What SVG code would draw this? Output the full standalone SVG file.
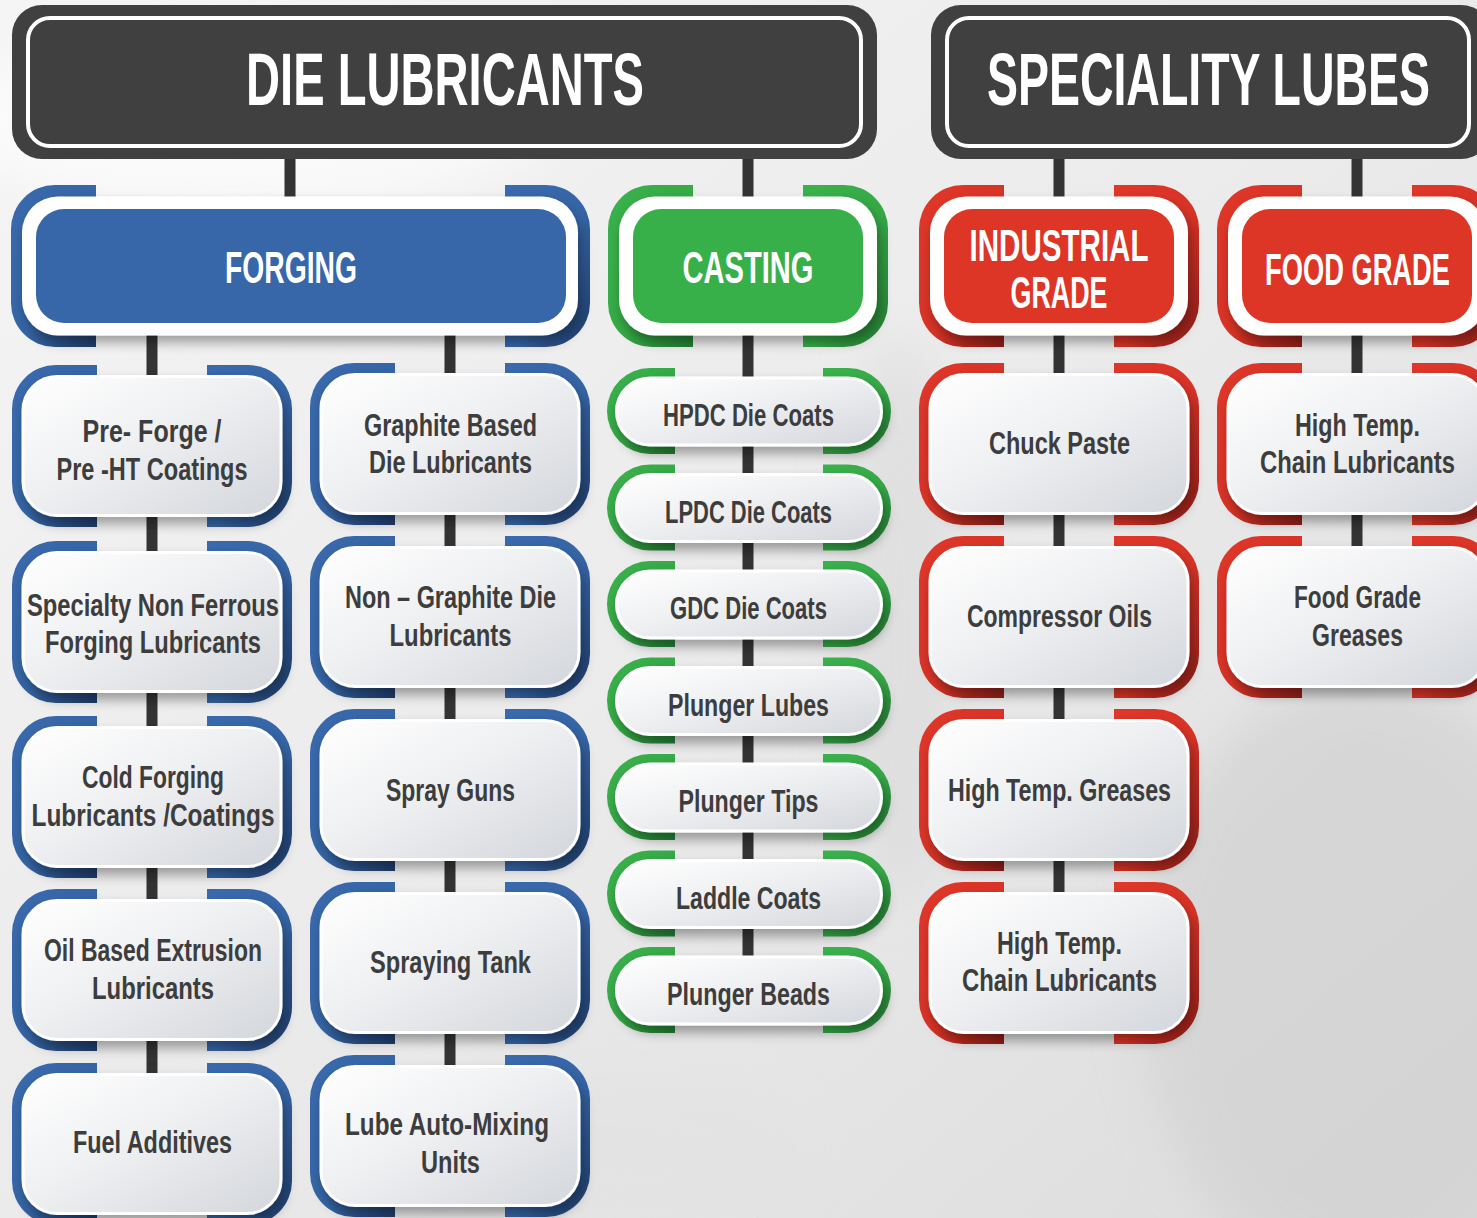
<svg xmlns="http://www.w3.org/2000/svg" width="1477" height="1218" viewBox="0 0 1477 1218">
<style>
.lt{font-family:"Liberation Sans",Arial,sans-serif;font-weight:bold;font-size:32px;fill:#3d3d3d;text-anchor:middle}
.ht{font-family:"Liberation Sans",Arial,sans-serif;font-weight:bold;font-size:44px;fill:#ffffff;text-anchor:middle}
.tt{font-family:"Liberation Sans",Arial,sans-serif;font-weight:bold;font-size:74px;fill:#ffffff;text-anchor:middle}
.cn line{stroke:#333333;stroke-width:11}
.bd{fill:url(#gw);stroke:#ffffff;stroke-width:3}
</style>
<defs>
<linearGradient id="bg" x1="0" y1="0" x2="1" y2="1">
<stop offset="0" stop-color="#f5f5f5"/><stop offset="0.5" stop-color="#ebebeb"/><stop offset="1" stop-color="#dcdcdc"/>
</linearGradient>
<linearGradient id="gb" x1="0" y1="0" x2="1" y2="1">
<stop offset="0" stop-color="#3a6aad"/><stop offset="0.55" stop-color="#3565a6"/><stop offset="1" stop-color="#1f3b68"/>
</linearGradient>
<linearGradient id="gg" x1="0" y1="0" x2="1" y2="1">
<stop offset="0" stop-color="#3ab24c"/><stop offset="0.55" stop-color="#35a946"/><stop offset="1" stop-color="#237d33"/>
</linearGradient>
<linearGradient id="gr" x1="0" y1="0" x2="1" y2="1">
<stop offset="0" stop-color="#e0372a"/><stop offset="0.55" stop-color="#d83326"/><stop offset="1" stop-color="#8c1d17"/>
</linearGradient>
<linearGradient id="gw" x1="0" y1="0" x2="1" y2="1">
<stop offset="0" stop-color="#ffffff"/><stop offset="0.45" stop-color="#eff0f2"/><stop offset="1" stop-color="#d3d6db"/>
</linearGradient>
<filter id="sh" x="-20%" y="-20%" width="140%" height="160%">
<feDropShadow dx="3" dy="7" stdDeviation="6" flood-color="#000000" flood-opacity="0.35"/>
</filter>
<filter id="bl" x="-50%" y="-50%" width="200%" height="200%"><feGaussianBlur stdDeviation="25"/></filter>
<g id="brk">
<path d="M85,0 H44 A44,44 0 0 0 0,44 V118 A44,44 0 0 0 44,162 H85 Z"/>
<path d="M195,0 H236 A44,44 0 0 1 280,44 V118 A44,44 0 0 1 236,162 H195 Z"/>
</g>
<g id="brkf">
<path d="M85,0 H44 A44,44 0 0 0 0,44 V118 A44,44 0 0 0 44,162 H85 Z"/>
<path d="M494,0 H535 A44,44 0 0 1 579,44 V118 A44,44 0 0 1 535,162 H494 Z"/>
</g>
<g id="brkp">
<path d="M68,0 H43 A43,43 0 0 0 43,86 H68 Z"/>
<path d="M216,0 H241 A43,43 0 0 1 241,86 H216 Z"/>
</g>
<rect id="body" class="bd" x="11" y="11.5" width="258" height="139" rx="34" filter="url(#sh)"/>
<rect id="bodyp" class="bd" x="9.5" y="10" width="265" height="67" rx="33.5" filter="url(#sh)"/>
<rect id="hbody" x="11" y="11.5" width="258" height="139" rx="36" fill="#ffffff" filter="url(#sh)"/>
</defs>

<rect width="1477" height="1218" fill="url(#bg)"/>
<g filter="url(#bl)" opacity="0.6">
<ellipse cx="1360" cy="980" rx="220" ry="300" fill="#cfcfcf"/>
<ellipse cx="900" cy="620" rx="60" ry="280" fill="#d9d9d9"/>
<ellipse cx="250" cy="120" rx="300" ry="90" fill="#ffffff"/>
<ellipse cx="600" cy="1150" rx="200" ry="80" fill="#e2e2e2"/>
</g>

<g class="cn" id="connectors">
<line x1="290" y1="155" x2="290" y2="205"/>
<line x1="748" y1="155" x2="748" y2="205"/>
<line x1="1059" y1="155" x2="1059" y2="205"/>
<line x1="1357" y1="155" x2="1357" y2="205"/>
<line x1="152" y1="330" x2="152" y2="383"/>
<line x1="152" y1="509" x2="152" y2="557"/>
<line x1="152" y1="683" x2="152" y2="734"/>
<line x1="152" y1="860" x2="152" y2="907"/>
<line x1="152" y1="1033" x2="152" y2="1081"/>
<line x1="450" y1="330" x2="450" y2="381"/>
<line x1="450" y1="507" x2="450" y2="554"/>
<line x1="450" y1="680" x2="450" y2="727"/>
<line x1="450" y1="853" x2="450" y2="900"/>
<line x1="450" y1="1026" x2="450" y2="1073"/>
<line x1="748" y1="330" x2="748" y2="384"/>
<line x1="748" y1="439" x2="748" y2="480"/>
<line x1="748" y1="535" x2="748" y2="577"/>
<line x1="748" y1="632" x2="748" y2="673"/>
<line x1="748" y1="728" x2="748" y2="770"/>
<line x1="748" y1="825" x2="748" y2="866"/>
<line x1="748" y1="921" x2="748" y2="963"/>
<line x1="1059" y1="330" x2="1059" y2="381"/>
<line x1="1059" y1="507" x2="1059" y2="554"/>
<line x1="1059" y1="680" x2="1059" y2="727"/>
<line x1="1059" y1="853" x2="1059" y2="900"/>
<line x1="1357" y1="330" x2="1357" y2="381"/>
<line x1="1357" y1="507" x2="1357" y2="554"/>
</g>

<g id="die-lubricants">
<rect x="12" y="5" width="865" height="154" rx="30" fill="#404040"/>
<rect x="28" y="18" width="833" height="128" rx="22" fill="none" stroke="#ffffff" stroke-width="4"/>
<text class="tt" x="445" y="105" textLength="398" lengthAdjust="spacingAndGlyphs">DIE LUBRICANTS</text>
</g>
<g id="speciality-lubes">
<rect x="931" y="5" width="560" height="154" rx="30" fill="#404040"/>
<rect x="947" y="18" width="522" height="128" rx="22" fill="none" stroke="#ffffff" stroke-width="4"/>
<text class="tt" x="1208.5" y="105" textLength="443" lengthAdjust="spacingAndGlyphs">SPECIALITY LUBES</text>
</g>

<g id="forging" transform="translate(11,185)">
<use href="#brkf" fill="url(#gb)"/>
<rect x="11" y="11.5" width="556" height="139" rx="36" fill="#ffffff" filter="url(#sh)"/>
<rect x="25" y="24" width="530" height="114" rx="28" fill="#3767a9"/>
<text class="ht" x="280" y="98" textLength="132" lengthAdjust="spacingAndGlyphs">FORGING</text>
</g>
<g id="casting" transform="translate(608,185)">
<use href="#brk" fill="url(#gg)"/>
<use href="#hbody"/>
<rect x="25" y="24" width="230" height="114" rx="28" fill="#38b04a"/>
<text class="ht" x="140" y="98" textLength="131" lengthAdjust="spacingAndGlyphs">CASTING</text>
</g>
<g id="industrial-grade" transform="translate(919,185)">
<use href="#brk" fill="url(#gr)"/>
<use href="#hbody"/>
<rect x="25" y="24" width="230" height="114" rx="28" fill="#dd3526"/>
<text class="ht" x="140" y="76" textLength="179" lengthAdjust="spacingAndGlyphs">INDUSTRIAL</text>
<text class="ht" x="140" y="123" textLength="97" lengthAdjust="spacingAndGlyphs">GRADE</text>
</g>
<g id="food-grade" transform="translate(1217,185)">
<use href="#brk" fill="url(#gr)"/>
<use href="#hbody"/>
<rect x="25" y="24" width="230" height="114" rx="28" fill="#dd3526"/>
<text class="ht" x="140.5" y="100" textLength="185" lengthAdjust="spacingAndGlyphs">FOOD GRADE</text>
</g>

<g id="pre-forge" transform="translate(12,365)">
<use href="#brk" fill="url(#gb)"/><use href="#body"/>
<text class="lt" x="140" y="77" textLength="139" lengthAdjust="spacingAndGlyphs">Pre- Forge /</text>
<text class="lt" x="140" y="115" textLength="191" lengthAdjust="spacingAndGlyphs">Pre -HT Coatings</text>
</g>
<g id="specialty-non-ferrous" transform="translate(12,541)">
<use href="#brk" fill="url(#gb)"/><use href="#body"/>
<text class="lt" x="141" y="75" textLength="252" lengthAdjust="spacingAndGlyphs">Specialty Non Ferrous</text>
<text class="lt" x="141" y="112" textLength="216" lengthAdjust="spacingAndGlyphs">Forging Lubricants</text>
</g>
<g id="cold-forging" transform="translate(12,716)">
<use href="#brk" fill="url(#gb)"/><use href="#body"/>
<text class="lt" x="141" y="72" textLength="142" lengthAdjust="spacingAndGlyphs">Cold Forging</text>
<text class="lt" x="141" y="110" textLength="243" lengthAdjust="spacingAndGlyphs">Lubricants /Coatings</text>
</g>
<g id="oil-based-extrusion" transform="translate(12,889)">
<use href="#brk" fill="url(#gb)"/><use href="#body"/>
<text class="lt" x="141" y="72" textLength="218" lengthAdjust="spacingAndGlyphs">Oil Based Extrusion</text>
<text class="lt" x="141" y="110" textLength="122" lengthAdjust="spacingAndGlyphs">Lubricants</text>
</g>
<g id="fuel-additives" transform="translate(12,1063)">
<use href="#brk" fill="url(#gb)"/><use href="#body"/>
<text class="lt" x="140.5" y="90" textLength="159" lengthAdjust="spacingAndGlyphs">Fuel Additives</text>
</g>

<g id="graphite-based" transform="translate(310,363)">
<use href="#brk" fill="url(#gb)"/><use href="#body"/>
<text class="lt" x="140.5" y="73" textLength="173" lengthAdjust="spacingAndGlyphs">Graphite Based</text>
<text class="lt" x="140.5" y="110" textLength="163" lengthAdjust="spacingAndGlyphs">Die Lubricants</text>
</g>
<g id="non-graphite" transform="translate(310,536)">
<use href="#brk" fill="url(#gb)"/><use href="#body"/>
<text class="lt" x="140.5" y="72" textLength="211" lengthAdjust="spacingAndGlyphs">Non – Graphite Die</text>
<text class="lt" x="140.5" y="110" textLength="122" lengthAdjust="spacingAndGlyphs">Lubricants</text>
</g>
<g id="spray-guns" transform="translate(310,709)">
<use href="#brk" fill="url(#gb)"/><use href="#body"/>
<text class="lt" x="140.5" y="92" textLength="129" lengthAdjust="spacingAndGlyphs">Spray Guns</text>
</g>
<g id="spraying-tank" transform="translate(310,882)">
<use href="#brk" fill="url(#gb)"/><use href="#body"/>
<text class="lt" x="140.5" y="91" textLength="161" lengthAdjust="spacingAndGlyphs">Spraying Tank</text>
</g>
<g id="lube-auto-mixing" transform="translate(310,1055)">
<use href="#brk" fill="url(#gb)"/><use href="#body"/>
<text class="lt" x="137" y="80" textLength="204" lengthAdjust="spacingAndGlyphs">Lube Auto-Mixing</text>
<text class="lt" x="140.5" y="118" textLength="59" lengthAdjust="spacingAndGlyphs">Units</text>
</g>

<g id="hpdc" transform="translate(607,368)">
<use href="#brkp" fill="url(#gg)"/><use href="#bodyp"/>
<text class="lt" x="141.5" y="58" textLength="171" lengthAdjust="spacingAndGlyphs">HPDC Die Coats</text>
</g>
<g id="lpdc" transform="translate(607,464.5)">
<use href="#brkp" fill="url(#gg)"/><use href="#bodyp"/>
<text class="lt" x="141.5" y="58" textLength="167" lengthAdjust="spacingAndGlyphs">LPDC Die Coats</text>
</g>
<g id="gdc" transform="translate(607,561)">
<use href="#brkp" fill="url(#gg)"/><use href="#bodyp"/>
<text class="lt" x="141.5" y="58" textLength="157" lengthAdjust="spacingAndGlyphs">GDC Die Coats</text>
</g>
<g id="plunger-lubes" transform="translate(607,657.5)">
<use href="#brkp" fill="url(#gg)"/><use href="#bodyp"/>
<text class="lt" x="141.5" y="58" textLength="161" lengthAdjust="spacingAndGlyphs">Plunger Lubes</text>
</g>
<g id="plunger-tips" transform="translate(607,754)">
<use href="#brkp" fill="url(#gg)"/><use href="#bodyp"/>
<text class="lt" x="141.5" y="58" textLength="140" lengthAdjust="spacingAndGlyphs">Plunger Tips</text>
</g>
<g id="laddle-coats" transform="translate(607,850.5)">
<use href="#brkp" fill="url(#gg)"/><use href="#bodyp"/>
<text class="lt" x="141.5" y="58" textLength="145" lengthAdjust="spacingAndGlyphs">Laddle Coats</text>
</g>
<g id="plunger-beads" transform="translate(607,947)">
<use href="#brkp" fill="url(#gg)"/><use href="#bodyp"/>
<text class="lt" x="141.5" y="58" textLength="163" lengthAdjust="spacingAndGlyphs">Plunger Beads</text>
</g>

<g id="chuck-paste" transform="translate(919,363)">
<use href="#brk" fill="url(#gr)"/><use href="#body"/>
<text class="lt" x="140.5" y="91" textLength="141" lengthAdjust="spacingAndGlyphs">Chuck Paste</text>
</g>
<g id="compressor-oils" transform="translate(919,536)">
<use href="#brk" fill="url(#gr)"/><use href="#body"/>
<text class="lt" x="140.5" y="91" textLength="185" lengthAdjust="spacingAndGlyphs">Compressor Oils</text>
</g>
<g id="high-temp-greases" transform="translate(919,709)">
<use href="#brk" fill="url(#gr)"/><use href="#body"/>
<text class="lt" x="140.5" y="92" textLength="223" lengthAdjust="spacingAndGlyphs">High Temp. Greases</text>
</g>
<g id="high-temp-chain-industrial" transform="translate(919,882)">
<use href="#brk" fill="url(#gr)"/><use href="#body"/>
<text class="lt" x="140.5" y="72" textLength="125" lengthAdjust="spacingAndGlyphs">High Temp.</text>
<text class="lt" x="140.5" y="109" textLength="195" lengthAdjust="spacingAndGlyphs">Chain Lubricants</text>
</g>

<g id="high-temp-chain-food" transform="translate(1217,363)">
<use href="#brk" fill="url(#gr)"/><use href="#body"/>
<text class="lt" x="140.5" y="73" textLength="125" lengthAdjust="spacingAndGlyphs">High Temp.</text>
<text class="lt" x="140.5" y="110" textLength="195" lengthAdjust="spacingAndGlyphs">Chain Lubricants</text>
</g>
<g id="food-grade-greases" transform="translate(1217,536)">
<use href="#brk" fill="url(#gr)"/><use href="#body"/>
<text class="lt" x="140.5" y="72" textLength="127" lengthAdjust="spacingAndGlyphs">Food Grade</text>
<text class="lt" x="140.5" y="110" textLength="91" lengthAdjust="spacingAndGlyphs">Greases</text>
</g>
</svg>
